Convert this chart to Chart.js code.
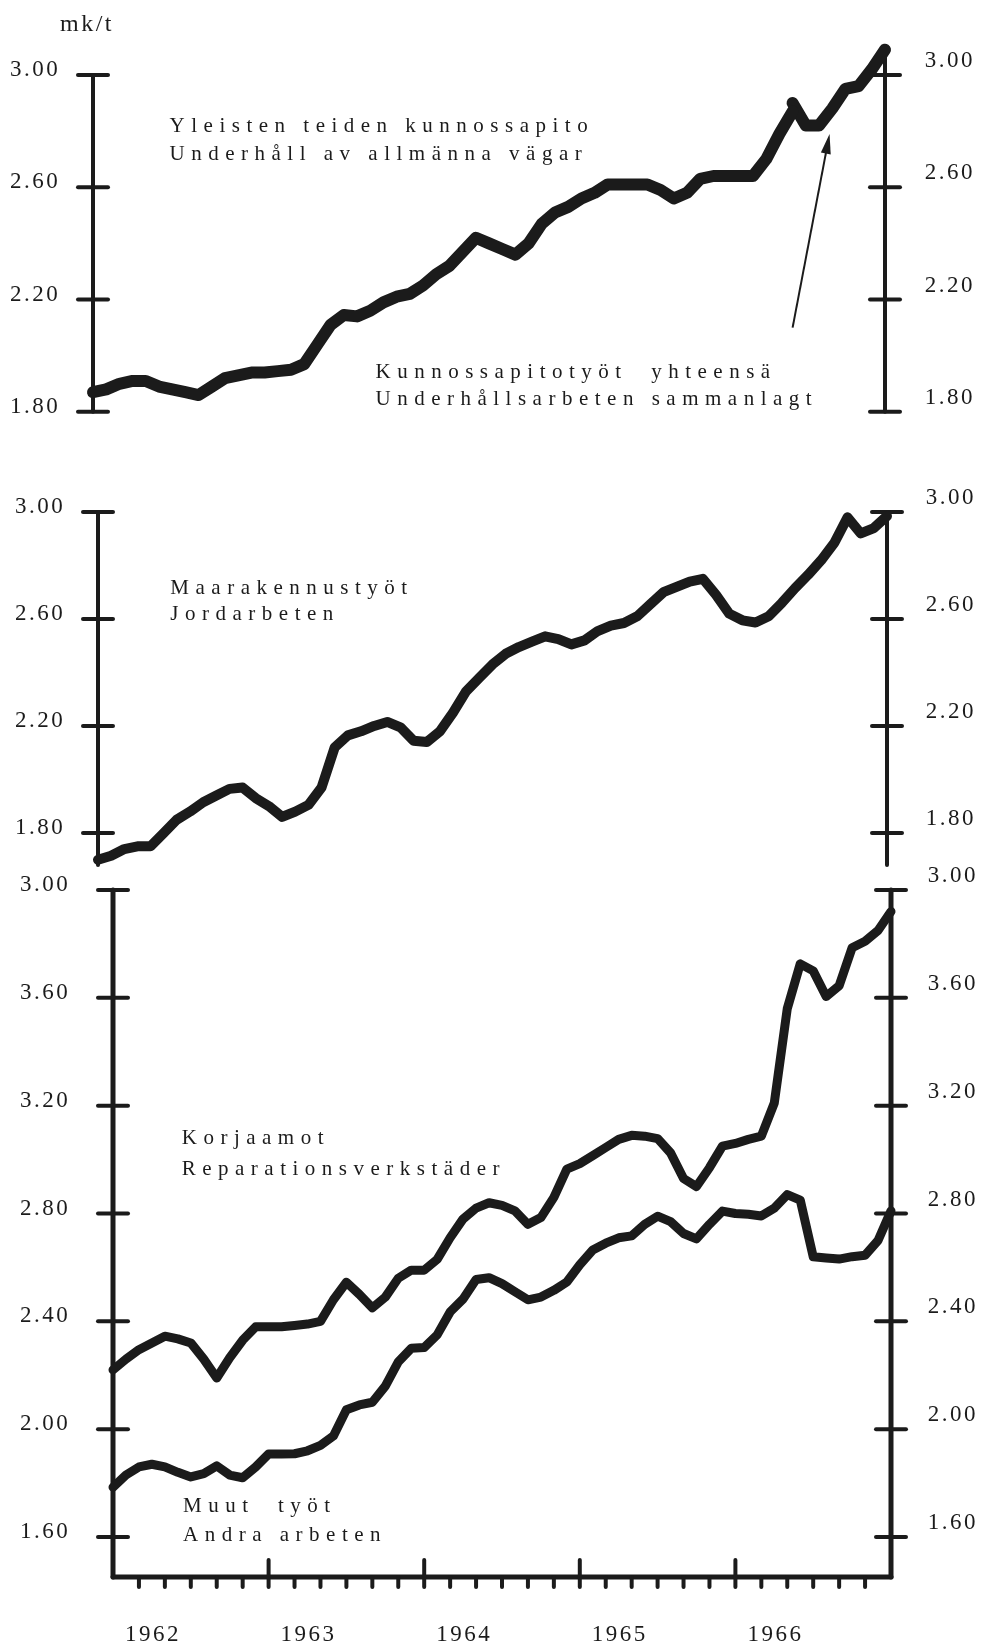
<!DOCTYPE html>
<html>
<head>
<meta charset="utf-8">
<title>Kunnossapitokustannukset 1962–1966</title>
<script src="https://cdn.jsdelivr.net/npm/chart.js@4.4.1/dist/chart.umd.min.js"></script>
<style>
  html, body { margin: 0; padding: 0; background: #fff; }
  #sheet { position: relative; width: 981px; height: 1647px; background: #fff; overflow: hidden; }
  #sheet canvas { position: absolute; left: 0; }
</style>
</head>
<body>
<div id="sheet">
  <canvas id="roads" width="981" height="440" style="top:0"></canvas>
  <canvas id="earth" width="981" height="440" style="top:440px"></canvas>
  <canvas id="shops" width="981" height="787" style="top:860px"></canvas>
</div>
<script>
// monthly cost per tonne (mk/t), month 0 = January 1962
const years = ['1962', '1963', '1964', '1965', '1966'];

// road maintenance, months 0-53
const roadUpkeep = [
  1.87, 1.88, 1.90, 1.91, 1.91, 1.89, 1.88, 1.87, 1.86, 1.89,
  1.92, 1.93, 1.94, 1.94, 1.945, 1.95, 1.97, 2.04, 2.11, 2.145,
  2.14, 2.16, 2.19, 2.21, 2.22, 2.25, 2.29, 2.32, 2.37, 2.42,
  2.40, 2.38, 2.36, 2.40, 2.47, 2.51, 2.53, 2.56, 2.58, 2.61,
  2.61, 2.61, 2.61, 2.59, 2.56, 2.58, 2.63, 2.64, 2.64, 2.64,
  2.64, 2.70, 2.79, 2.87
];
// all maintenance work combined, months 53-60
const totalStart = 53;
const upkeepTotal = [2.90, 2.82, 2.82, 2.88, 2.95, 2.96, 3.02, 3.09];

const earthworks = [
  1.70, 1.715, 1.74, 1.75, 1.75, 1.80, 1.85, 1.88, 1.915, 1.94,
  1.965, 1.97, 1.93, 1.90, 1.86, 1.88, 1.905, 1.97, 2.12, 2.165,
  2.18, 2.20, 2.215, 2.195, 2.145, 2.14, 2.18, 2.25, 2.33, 2.38,
  2.43, 2.47, 2.495, 2.515, 2.535, 2.525, 2.505, 2.52, 2.555, 2.575,
  2.585, 2.61, 2.655, 2.70, 2.72, 2.74, 2.75, 2.69, 2.62, 2.595,
  2.587, 2.61, 2.66, 2.715, 2.765, 2.82, 2.885, 2.98, 2.92, 2.94,
  2.985
];

const repairShops = [
  2.22, 2.26, 2.295, 2.32, 2.345, 2.335, 2.32, 2.26, 2.19, 2.265,
  2.33, 2.38, 2.38, 2.38, 2.385, 2.39, 2.40, 2.48, 2.545, 2.50,
  2.45, 2.49, 2.56, 2.59, 2.59, 2.63, 2.71, 2.78, 2.82, 2.84,
  2.83, 2.81, 2.76, 2.785, 2.86, 2.965, 2.985, 3.015, 3.045, 3.075,
  3.09, 3.087, 3.078, 3.025, 2.93, 2.90, 2.97, 3.05, 3.06, 3.075,
  3.087, 3.21, 3.56, 3.726, 3.70, 3.605, 3.645, 3.786, 3.81, 3.85,
  3.92
];

const otherWorks = [
  1.785, 1.83, 1.86, 1.87, 1.86, 1.84, 1.823, 1.835, 1.864, 1.83,
  1.82, 1.86, 1.908, 1.908, 1.909, 1.92, 1.94, 1.975, 2.072, 2.09,
  2.10, 2.16, 2.25, 2.30, 2.303, 2.35, 2.435, 2.483, 2.555, 2.562,
  2.54, 2.51, 2.48, 2.49, 2.515, 2.546, 2.61, 2.665, 2.69, 2.71,
  2.717, 2.76, 2.79, 2.77, 2.726, 2.706, 2.76, 2.809, 2.80, 2.797,
  2.791, 2.82, 2.87, 2.85, 2.64, 2.635, 2.631, 2.64, 2.645, 2.70,
  2.81
];

const upperTicks = [1.8, 2.2, 2.6, 3.0];
const upperTickLabels = ['1.80', '2.20', '2.60', '3.00'];
const lowerTicks = [1.6, 2.0, 2.4, 2.8, 3.2, 3.6, 4.0];
const lowerTickLabels = ['1.60', '2.00', '2.40', '2.80', '3.20', '3.60', '3.00'];

const INK = '#1b1b1b';
const TICK_FONT = { family: 'Liberation Serif', size: 23 };
const NOTE_FONT = '21px "Liberation Serif"';

const toPoints = (vals, start = 0) => vals.map((v, i) => ({ x: start + i, y: v }));

function stroke(ctx, x1, y1, x2, y2, w) {
  ctx.lineWidth = w;
  ctx.beginPath();
  ctx.moveTo(x1, y1);
  ctx.lineTo(x2, y2);
  ctx.stroke();
}

// axis lines with ticks crossing them, plus the month ticks on the time axis
function axisMarks(p) {
  return {
    id: 'axisMarks',
    beforeDraw(chart) { chart.ctx.letterSpacing = '2.5px'; },
    beforeDatasetsDraw(chart) {
      const { ctx, chartArea: a, scales } = chart;
      const y = scales.y;
      ctx.save();
      ctx.strokeStyle = INK;
      ctx.lineCap = 'round';
      [[a.left, p.leftSpan], [a.right, p.rightSpan]].forEach(([ax, span]) => {
        stroke(ctx, ax, y.getPixelForValue(span[1]), ax, y.getPixelForValue(span[0]), p.axisWidth);
        y.ticks.forEach(t => {
          const ty = y.getPixelForValue(t.value);
          stroke(ctx, ax - 15, ty, ax + 15, ty, 4);
        });
      });
      if (p.timeAxis) {
        const x = scales.x, by = a.bottom;
        stroke(ctx, a.left, by, a.right, by, 5);
        x.ticks.forEach(t => {
          if (t.value <= 0 || t.value >= 60) return;
          const tx = x.getPixelForValue(t.value);
          if (t.value % 12 === 0) stroke(ctx, tx, by - 17, tx, by + 10, 4);
          else stroke(ctx, tx, by, tx, by + 10, 4);
        });
      }
      ctx.restore();
    }
  };
}

// series names written into the plot, and the pointer arrow
function notes(p) {
  return {
    id: 'notes',
    afterDraw(chart) {
      const { ctx, scales: { x, y } } = chart;
      ctx.save();
      ctx.fillStyle = INK;
      ctx.strokeStyle = INK;
      ctx.textBaseline = 'middle';
      (p.notes || []).forEach(n => {
        ctx.font = n.font || NOTE_FONT;
        ctx.letterSpacing = n.spacing || '6.5px';
        ctx.fillText(n.text, x.getPixelForValue(n.x), y.getPixelForValue(n.y));
      });
      if (p.arrow) {
        const [from, to] = p.arrow;
        const x1 = x.getPixelForValue(from.x), y1 = y.getPixelForValue(from.y);
        const x2 = x.getPixelForValue(to.x), y2 = y.getPixelForValue(to.y);
        const ang = Math.atan2(y2 - y1, x2 - x1);
        stroke(ctx, x1, y1, x2 - 14 * Math.cos(ang), y2 - 14 * Math.sin(ang), 2);
        ctx.beginPath();
        ctx.moveTo(x2, y2);
        ctx.lineTo(x2 - 20 * Math.cos(ang) + 5 * Math.sin(ang), y2 - 20 * Math.sin(ang) - 5 * Math.cos(ang));
        ctx.lineTo(x2 - 20 * Math.cos(ang) - 5 * Math.sin(ang), y2 - 20 * Math.sin(ang) + 5 * Math.cos(ang));
        ctx.closePath();
        ctx.fill();
      }
      ctx.restore();
    }
  };
}

// labels sit at the outer edge of each axis box ('far'), so the box width sets the gap
function yAxis(side, p) {
  const left = side === 'left';
  return {
    type: 'linear',
    position: side,
    min: p.yMin,
    max: p.yMax,
    grid: { display: false, drawTicks: false },
    border: { display: false },
    afterBuildTicks: s => { s.ticks = p.ticks.map(v => ({ value: v })); },
    afterFit: s => { s.width = left ? p.leftWidth : p.rightWidth; },
    ticks: {
      color: INK,
      font: TICK_FONT,
      padding: 0,
      crossAlign: 'far',
      labelOffset: left ? -5 : -14,
      callback: (v, i) => p.tickLabels[i]
    }
  };
}

function drawPanel(id, p) {
  return new Chart(document.getElementById(id), {
    type: 'line',
    data: {
      datasets: p.series.map(s => ({
        data: s,
        borderColor: INK,
        borderWidth: p.lineWidth,
        pointRadius: 0,
        tension: 0,
        clip: false,
        borderJoinStyle: 'round',
        borderCapStyle: 'round'
      }))
    },
    options: {
      responsive: false,
      animation: false,
      events: [],
      layout: { padding: { top: p.padTop, bottom: p.padBottom, left: p.padLeft, right: p.padRight } },
      plugins: { legend: { display: false }, tooltip: { enabled: false } },
      scales: {
        x: {
          type: 'linear',
          min: 0,
          max: 60,
          display: !!p.timeAxis,
          grid: { display: false, drawTicks: false },
          border: { display: false },
          afterFit: s => { if (p.timeAxis) s.height = 70; },
          ticks: {
            stepSize: 2,
            autoSkip: false,
            maxRotation: 0,
            color: INK,
            font: TICK_FONT,
            padding: 44,
            labelOffset: 40,
            callback: v => (v % 12 === 0 && v < 60 ? years[v / 12] : '')
          }
        },
        y: yAxis('left', p),
        y2: yAxis('right', p)
      }
    },
    plugins: [axisMarks(p), notes(p)]
  });
}

drawPanel('roads', {
  series: [toPoints(roadUpkeep), toPoints(upkeepTotal, totalStart)],
  lineWidth: 12,
  padTop: 30, padBottom: 20, padLeft: 10, padRight: 6,
  yMin: 1.771, yMax: 3.160,
  ticks: upperTicks, tickLabels: upperTickLabels,
  leftWidth: 83, rightWidth: 90,
  leftSpan: [1.80, 3.00], rightSpan: [1.80, 3.09],
  axisWidth: 4,
  notes: [
    { text: 'mk/t', x: -2.5, y: 3.178, font: '24px "Liberation Serif"', spacing: '2.5px' },
    { text: 'Yleisten teiden kunnossapito', x: 5.8, y: 2.815 },
    { text: 'Underhåll av allmänna vägar', x: 5.8, y: 2.715 },
    { text: 'Kunnossapitotyöt  yhteensä', x: 21.4, y: 1.94 },
    { text: 'Underhållsarbeten sammanlagt', x: 21.4, y: 1.845 }
  ],
  arrow: [{ x: 53.0, y: 2.10 }, { x: 55.8, y: 2.79 }]
});

drawPanel('earth', {
  series: [toPoints(earthworks)],
  lineWidth: 10,
  padTop: 40, padBottom: 30, padLeft: 15, padRight: 5,
  yMin: 1.7364, yMax: 3.1196,
  ticks: upperTicks, tickLabels: upperTickLabels,
  leftWidth: 83, rightWidth: 89,
  leftSpan: [1.68, 3.00], rightSpan: [1.68, 3.00],
  axisWidth: 4,
  notes: [
    { text: 'Maarakennustyöt', x: 5.5, y: 2.715 },
    { text: 'Jordarbeten', x: 5.5, y: 2.615 }
  ]
});

drawPanel('shops', {
  series: [toPoints(repairShops), toPoints(otherWorks)],
  lineWidth: 9,
  padTop: 20, padBottom: 0, padLeft: 20, padRight: 3,
  yMin: 1.4518, yMax: 4.0371,
  ticks: lowerTicks, tickLabels: lowerTickLabels,
  leftWidth: 93, rightWidth: 87,
  leftSpan: [1.4518, 4.00], rightSpan: [1.4518, 4.00],
  axisWidth: 5,
  timeAxis: true,
  notes: [
    { text: 'Korjaamot', x: 5.3, y: 3.08 },
    { text: 'Reparationsverkstäder', x: 5.3, y: 2.965 },
    { text: 'Muut  työt', x: 5.4, y: 1.712 },
    { text: 'Andra arbeten', x: 5.4, y: 1.605 }
  ]
});
</script>
</body>
</html>
